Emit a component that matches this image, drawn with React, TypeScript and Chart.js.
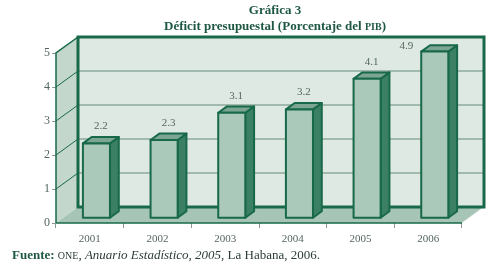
import React, { useEffect, useRef } from "react";
import { Chart, registerables } from "chart.js";

Chart.register(...registerables);

const categories = ["2001", "2002", "2003", "2004", "2005", "2006"];
const deficit = [2.2, 2.3, 3.1, 3.2, 4.1, 4.9];
const yTicks = [0, 1, 2, 3, 4, 5];

const DX = 22;
const DY = -16;
const BAR_OFFSET = 0.3;
const BAR_DEPTH = 0.4;

const C = {
  wall: "#dee9e4",
  side: "#c4d7cd",
  floor: "#a7c5b6",
  grid: "#8eaa9d",
  dark: "#17694a",
  front: "#aac9ba",
  top: "#7ca693",
  barSide: "#3b8065",
  text: "#55675d",
  title: "#1e5842",
};

const threeD = {
  id: "threeD",
  beforeDatasetsDraw(chart: any) {
    const { ctx, chartArea: a, scales } = chart;
    const ys = scales.y;
    const y0 = ys.getPixelForValue(yTicks[0]);
    const yTop = ys.getPixelForValue(yTicks[yTicks.length - 1]);
    ctx.save();
    // back wall
    ctx.fillStyle = C.wall;
    ctx.fillRect(a.left + DX, yTop + DY, a.right - a.left, y0 - yTop);
    // grid lines on back wall
    ctx.strokeStyle = C.grid;
    ctx.lineWidth = 1.5;
    yTicks.slice(1, -1).forEach((v) => {
      const py = ys.getPixelForValue(v) + DY;
      ctx.beginPath();
      ctx.moveTo(a.left + DX, py);
      ctx.lineTo(a.right + DX, py);
      ctx.stroke();
    });
    // side wall
    ctx.fillStyle = C.side;
    ctx.beginPath();
    ctx.moveTo(a.left, yTop);
    ctx.lineTo(a.left + DX, yTop + DY);
    ctx.lineTo(a.left + DX, y0 + DY);
    ctx.lineTo(a.left, y0);
    ctx.closePath();
    ctx.fill();
    ctx.strokeStyle = C.dark;
    ctx.lineWidth = 1;
    yTicks.slice(1, -1).forEach((v) => {
      const py = ys.getPixelForValue(v);
      ctx.beginPath();
      ctx.moveTo(a.left, py);
      ctx.lineTo(a.left + DX, py + DY);
      ctx.stroke();
    });
    ctx.lineWidth = 1.5;
    ctx.beginPath();
    ctx.moveTo(a.left, y0);
    ctx.lineTo(a.left, yTop);
    ctx.lineTo(a.left + DX, yTop + DY);
    ctx.stroke();
    // floor
    ctx.fillStyle = C.floor;
    ctx.beginPath();
    ctx.moveTo(a.left, y0);
    ctx.lineTo(a.left + DX, y0 + DY);
    ctx.lineTo(a.right + DX, y0 + DY);
    ctx.lineTo(a.right, y0);
    ctx.closePath();
    ctx.fill();
    ctx.strokeStyle = "#eef4f1";
    ctx.lineWidth = 1;
    ctx.beginPath();
    ctx.moveTo(a.right, y0);
    ctx.lineTo(a.right + DX, y0 + DY);
    ctx.stroke();
    ctx.strokeStyle = C.dark;
    ctx.lineWidth = 1.5;
    ctx.beginPath();
    ctx.moveTo(a.left, y0);
    ctx.lineTo(a.right, y0);
    ctx.stroke();
    // back wall border
    ctx.lineWidth = 3;
    ctx.strokeRect(a.left + DX, yTop + DY, a.right - a.left, y0 - yTop);
    ctx.restore();
  },
  afterDatasetsDraw(chart: any) {
    const { ctx, scales } = chart;
    const wallTop = scales.y.getPixelForValue(yTicks[yTicks.length - 1]) + DY;
    const meta = chart.getDatasetMeta(0);
    const ds = chart.data.datasets[0].data;
    ctx.save();
    ctx.lineWidth = 2;
    ctx.lineJoin = "round";
    ctx.strokeStyle = C.dark;
    meta.data.forEach((el: any, i: number) => {
      const { x, y, base, width } = el.getProps(["x", "y", "base", "width"], true);
      const fx = BAR_OFFSET * DX;
      const fy = BAR_OFFSET * DY;
      const bx = BAR_DEPTH * DX;
      const by = BAR_DEPTH * DY;
      const l = x - width / 2 + fx;
      const r = x + width / 2 + fx;
      const t = y + fy;
      const b = base + fy;
      // side
      ctx.fillStyle = C.barSide;
      ctx.beginPath();
      ctx.moveTo(r, t);
      ctx.lineTo(r + bx, t + by);
      ctx.lineTo(r + bx, b + by);
      ctx.lineTo(r, b);
      ctx.closePath();
      ctx.fill();
      ctx.stroke();
      // top
      ctx.fillStyle = C.top;
      ctx.beginPath();
      ctx.moveTo(l, t);
      ctx.lineTo(l + bx, t + by);
      ctx.lineTo(r + bx, t + by);
      ctx.lineTo(r, t);
      ctx.closePath();
      ctx.fill();
      ctx.stroke();
      // front
      ctx.fillStyle = C.front;
      ctx.fillRect(l, t, r - l, b - t);
      ctx.strokeRect(l, t, r - l, b - t);
      // label
      ctx.fillStyle = C.text;
      ctx.font = "11px 'Liberation Serif'";
      const labelBottom = t + by - 5;
      if (labelBottom - 12 < wallTop + 2) {
        ctx.textAlign = "right";
        ctx.textBaseline = "middle";
        ctx.fillText(String(ds[i]), l - 8, t + by + 1);
      } else {
        ctx.textAlign = "center";
        ctx.textBaseline = "bottom";
        ctx.fillText(String(ds[i]), x + fx + bx / 2, labelBottom);
      }
    });
    ctx.restore();
  },
};

export default function App() {
  const ref = useRef<HTMLCanvasElement>(null);
  useEffect(() => {
    if (!ref.current) return;
    const chart = new Chart(ref.current, {
      type: "bar",
      data: {
        labels: categories,
        datasets: [
          {
            data: deficit,
            backgroundColor: "rgba(0,0,0,0)",
            borderWidth: 0,
            barPercentage: 0.4,
            categoryPercentage: 1,
          },
        ],
      },
      options: {
        responsive: false,
        animation: false,
        layout: { padding: { top: 53, right: 34, left: 0, bottom: 0 } },
        plugins: { legend: { display: false }, tooltip: { enabled: false }, title: { display: false } },
        scales: {
          x: {
            border: { display: false },
            grid: { drawOnChartArea: false, drawTicks: true, tickLength: 5, color: "#8a9a92", offset: true },
            ticks: { color: C.text, font: { family: "Liberation Serif", size: 11 }, padding: 5, maxRotation: 0 },
            afterFit: (s: any) => {
              s.height = 49;
            },
          },
          y: {
            min: 0,
            max: 5,
            border: { display: false },
            grid: { drawOnChartArea: false, drawTicks: true, tickLength: 4, color: "#8a9a92" },
            ticks: { stepSize: 1, color: C.text, font: { family: "Liberation Serif", size: 12 }, padding: 2 },
            afterFit: (s: any) => {
              s.width = 56;
            },
          },
        },
      },
      plugins: [threeD],
    });
    return () => chart.destroy();
  }, []);

  const serif = "'Liberation Serif', 'Times New Roman', serif";
  return (
    <div style={{ position: "absolute", left: 0, top: 0, width: 496, height: 272, background: "#fff" }}>
      <canvas ref={ref} width={496} height={272} style={{ position: "absolute", left: 0, top: 0 }} />
      <div
        style={{
          position: "absolute",
          left: 0,
          top: 2,
          width: 550,
          textAlign: "center",
          fontFamily: serif,
          fontWeight: "bold",
          fontSize: 13,
          lineHeight: "16px",
          color: C.title,
        }}
      >
        <div>Gráfica 3</div>
        <div>
          Déficit presupuestal (Porcentaje del <span style={{ fontSize: 10 }}>PIB</span>)
        </div>
      </div>
      <div
        style={{
          position: "absolute",
          left: 12,
          top: 247,
          fontFamily: serif,
          fontSize: 13,
          lineHeight: "16px",
          color: "#2a3d34",
          whiteSpace: "nowrap",
        }}
      >
        <b style={{ color: C.title }}>Fuente:</b> <span style={{ fontSize: 10 }}>ONE</span>,{" "}
        <i>Anuario Estadístico, 2005</i>, La Habana, 2006.
      </div>
    </div>
  );
}
